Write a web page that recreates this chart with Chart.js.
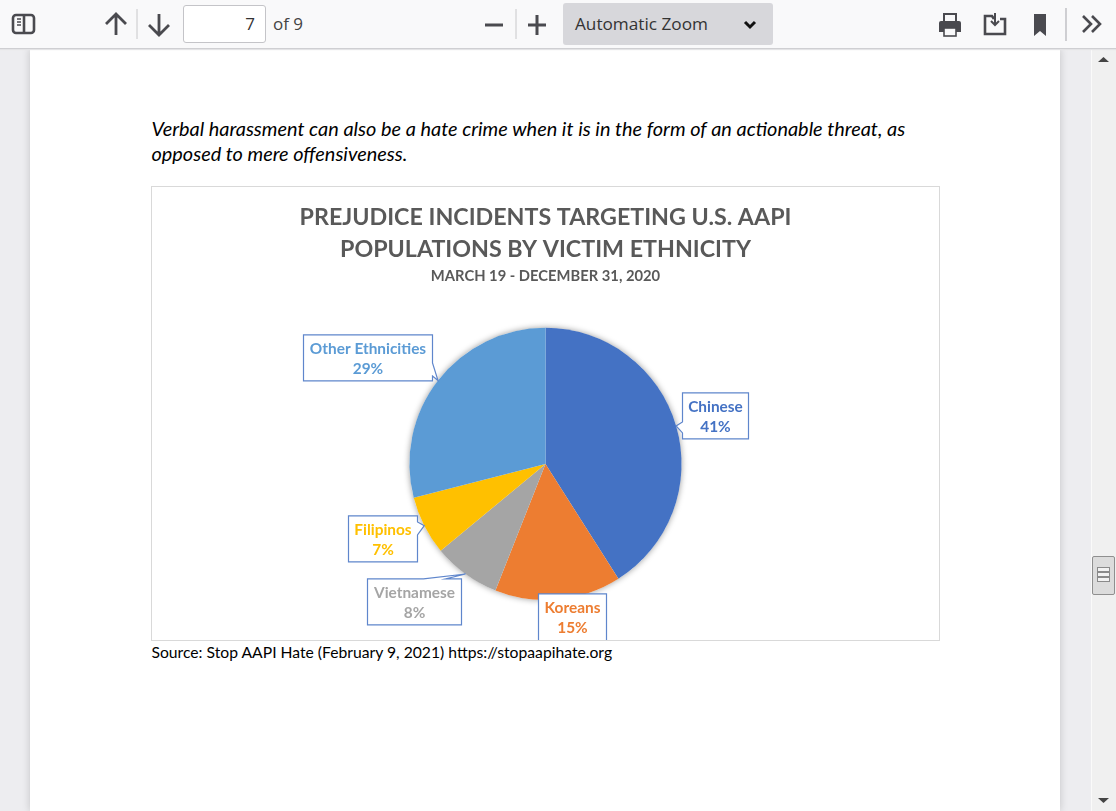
<!DOCTYPE html>
<html>
<head>
<meta charset="utf-8">
<title>Prejudice incidents</title>
<script src="https://cdn.jsdelivr.net/npm/chart.js@4"></script>
<style>
    html, body { margin: 0; padding: 0; width: 1116px; height: 811px; overflow: hidden; background: #ededf0; }
    body { position: relative; font-family: "Open Sans", sans-serif; }
    #toolbar { position: absolute; left: 0; top: 0; width: 1116px; height: 48px; background: #f9f9fa; border-bottom: 1px solid #cfcfd2; box-shadow: 0 1px 1px #e4e4e6; z-index: 3; }
    #toolbar svg { position: absolute; left: 0; top: 0; z-index: 2; }
    #pageNum { position: absolute; left: 183px; top: 5px; width: 81px; height: 36px; border: 1px solid #c4c4c8; border-radius: 3px; background: #fff; font-size: 17px; line-height: 36px; text-align: right; color: #333; }
    #pageNum span { padding-right: 10px; }
    #ofPages { position: absolute; left: 273px; top: 12px; font-size: 17px; color: #444; line-height: 24px; }
    #zoomSelect { position: absolute; left: 563px; top: 3px; width: 210px; height: 42px; border-radius: 3px; background: #d7d7db; }
    #zoomSelect span { position: absolute; left: 12px; top: 9px; font-size: 17.2px; line-height: 24px; color: #333; }
    #page { position: absolute; left: 30px; top: 49px; width: 1030px; height: 762px; background: #fff; box-shadow: 0 0 8px rgba(0,0,0,0.18); }
    #scrollbar { position: absolute; left: 1091px; top: 49px; width: 25px; height: 762px; background: #f0f0f0; border-left: 1px solid #fafafa; box-sizing: border-box; }
    #thumb { position: absolute; left: 1092px; top: 556px; width: 23px; height: 39px; box-sizing: border-box; border: 1px solid #8f8f8f; border-radius: 2px; background: #dcdcdc; }
    #thumb i { position: absolute; left: 4px; width: 13px; height: 5px; border: 1px solid #8a8a8a; background: #f2f2f2; box-sizing: border-box; }
    .bodyText { position: absolute; left: 151.500px; font-family: Lato, sans-serif; color: #000; white-space: nowrap; }
    .intro { font-style: italic; font-size: 19.9px; line-height: 25px; }
    #source { top: 642px; font-size: 15.7px; line-height: 20px; }
    #chartBox { position: absolute; left: 151px; top: 186px; width: 789px; height: 455px; box-sizing: border-box; border: 1px solid #d9d9d9; background: #fff; }
    #chartBox canvas { display: block; }
</style>
</head>
<body>
<div id="toolbar">
    <svg width="1116" height="48" fill="none" stroke="#4a4a4f">
        <rect x="13" y="15" width="21" height="18" rx="3" stroke-width="2.6"/>
        <line x1="24" y1="15" x2="24" y2="33" stroke-width="2.6"/>
        <path d="M17 19h4M17 22h4M17 25h4" stroke-width="1.4"/>
        <path d="M106 24l10-10 10 10M116 14v21" stroke-width="2.8"/>
        <line x1="137" y1="9" x2="137" y2="39" stroke="#c8c8ca"/>
        <path d="M149 25l10 10 10-10M159 14v21" stroke-width="2.8"/>
        <line x1="485" y1="25" x2="503" y2="25" stroke-width="3"/>
        <line x1="516" y1="9" x2="516" y2="39" stroke="#c8c8ca"/>
        <path d="M528 25h18M537 15v20" stroke-width="3"/>
        <path d="M745 22l5 5 5-5" stroke="#111" stroke-width="3"/>
        <path d="M944 22v-8h12v8" stroke-width="2"/>
        <path d="M939 23a2 2 0 0 1 2-2h18a2 2 0 0 1 2 2v9h-22z" fill="#4a4a4f" stroke="none"/>
        <rect x="944" y="28" width="12" height="8" fill="#f9f9fa" stroke-width="1.6"/>
        <path d="M985 20v-4h7l2 3M1000 19h5v15h-20v-18" stroke-width="2.6"/>
        <path d="M995 13v12M991 21l4 4 4-4" stroke-width="2"/>
        <path d="M1034 14h12v22l-6-5-6 5z" fill="#4a4a4f" stroke="none"/>
        <line x1="1066" y1="8" x2="1066" y2="41" stroke="#bdbdc0" stroke-width="1.4"/>
        <path d="M1083 16l8 8-8 8M1092 16l8 8-8 8" stroke-width="2.6"/>
    </svg>
    <div id="pageNum"><span>7</span></div>
    <div id="ofPages">of 9</div>
    <div id="zoomSelect"><span>Automatic Zoom</span></div>
</div>
<div id="page"></div>
<div class="bodyText intro" style="top:115.500px">Verbal harassment can also be a hate crime when it is in the form of an actionable threat, as</div>
<div class="bodyText intro" style="top:140.500px">opposed to mere offensiveness.</div>
<div id="chartBox"><canvas id="pieChart" width="787" height="453"></canvas></div>
<div class="bodyText" id="source">Source: Stop AAPI Hate (February 9, 2021) https://stopaapihate.org</div>
<div id="scrollbar">
    <svg width="25" height="20"><path d="M6 13l5.500-5 5.500 5z" fill="#444"/></svg>
    <svg width="25" height="20" style="position:absolute;left:0;bottom:0"><path d="M6 7l5.500 5 5.500-5z" fill="#444"/></svg>
</div>
<div id="thumb"><i style="top:10px"></i><i style="top:15px"></i><i style="top:20px"></i></div>

<script>
const categories = ["Chinese", "Koreans", "Vietnamese", "Filipinos", "Other Ethnicities"];
const shares = [41, 15, 8, 7, 29];
const sliceColors = ["#4472c4", "#ed7d31", "#a5a5a5", "#ffc000", "#5b9bd5"];
const titleLines = ["PREJUDICE INCIDENTS TARGETING U.S. AAPI", "POPULATIONS BY VICTIM ETHNICITY"];
const subtitleText = "MARCH 19 - DECEMBER 31, 2020";

// callout boxes, relative to the pie centre: x, y, w, h, pointer edge, pointer base
// the Koreans box runs past the bottom of the canvas, same as the source picture
const callouts = [
    { x: 137, y: -71, w: 66, h: 46, side: "left", base: [-42, -31] },
    { x: -7, y: 130, w: 68, h: 48, side: "none" },
    { x: -178, y: 115, w: 94, h: 46, side: "top", base: [-122, -100] },
    { x: -197, y: 52, w: 69, h: 46, side: "right", base: [58, 71] },
    { x: -242, y: -129, w: 129, h: 46, side: "right", base: [-101, -88] }
];

function calloutPath(ctx, box, cx, cy, tipX, tipY) {
    const l = cx + box.x, t = cy + box.y, r = l + box.w, b = t + box.h;
    ctx.beginPath();
    ctx.moveTo(l, t);
    if (box.side === "top") {
        ctx.lineTo(cx + box.base[0], t);
        ctx.lineTo(tipX, tipY);
        ctx.lineTo(cx + box.base[1], t);
    }
    ctx.lineTo(r, t);
    if (box.side === "right") {
        ctx.lineTo(r, cy + box.base[0]);
        ctx.lineTo(tipX, tipY);
        ctx.lineTo(r, cy + box.base[1]);
    }
    ctx.lineTo(r, b);
    ctx.lineTo(l, b);
    if (box.side === "left") {
        ctx.lineTo(l, cy + box.base[1]);
        ctx.lineTo(tipX, tipY);
        ctx.lineTo(l, cy + box.base[0]);
    }
    ctx.closePath();
}

// soft shadow behind the whole pie
const pieShadow = {
    id: "pieShadow",
    beforeDatasetsDraw(chart) {
        const arc = chart.getDatasetMeta(0).data[0];
        const ctx = chart.ctx;
        ctx.save();
        ctx.shadowColor = "rgba(0,0,0,0.4)";
        ctx.shadowBlur = 6;
        ctx.fillStyle = "#fff";
        ctx.beginPath();
        ctx.arc(arc.x, arc.y, arc.outerRadius, 0, Math.PI * 2);
        ctx.fill();
        ctx.restore();
    }
};

// data callouts with the name and the share, pointing at the middle of each slice
const pieCallouts = {
    id: "pieCallouts",
    afterDatasetsDraw(chart) {
        const ctx = chart.ctx;
        chart.getDatasetMeta(0).data.forEach((arc, i) => {
            const box = callouts[i];
            const mid = (arc.startAngle + arc.endAngle) / 2;
            const tipX = arc.x + Math.cos(mid) * arc.outerRadius;
            const tipY = arc.y + Math.sin(mid) * arc.outerRadius;
            ctx.save();
            calloutPath(ctx, box, arc.x, arc.y, tipX, tipY);
            ctx.fillStyle = "#fff";
            ctx.fill();
            ctx.strokeStyle = "#5f86cc";
            ctx.lineWidth = 1.2;
            ctx.stroke();
            ctx.fillStyle = sliceColors[i];
            ctx.font = "bold 15.4px Lato, sans-serif";
            ctx.textAlign = "center";
            ctx.textBaseline = "middle";
            const textX = arc.x + box.x + box.w / 2;
            const textY = arc.y + box.y + 23;
            ctx.fillText(categories[i], textX, textY - 9);
            ctx.fillText(shares[i] + "%", textX, textY + 11);
            ctx.restore();
        });
    }
};

new Chart(document.getElementById("pieChart").getContext("2d"), {
    type: "pie",
    data: {
        labels: categories,
        datasets: [{
            data: shares,
            backgroundColor: sliceColors,
            borderWidth: 0,
            hoverOffset: 0
        }]
    },
    options: {
        responsive: false,
        animation: false,
        layout: { padding: { top: 0, bottom: 40 } },
        plugins: {
            legend: { display: false },
            tooltip: { enabled: false },
            title: {
                display: true,
                text: titleLines,
                color: "#595959",
                font: { family: "Lato, sans-serif", size: 23.25, weight: "bold", lineHeight: 1.38 },
                padding: { top: 14, bottom: 0 }
            },
            subtitle: {
                display: true,
                text: subtitleText,
                color: "#595959",
                font: { family: "Lato, sans-serif", size: 14.75, weight: "bold", lineHeight: 1.2 },
                padding: { top: 2, bottom: 43 }
            }
        }
    },
    plugins: [pieShadow, pieCallouts]
});
</script>
</body>
</html>
